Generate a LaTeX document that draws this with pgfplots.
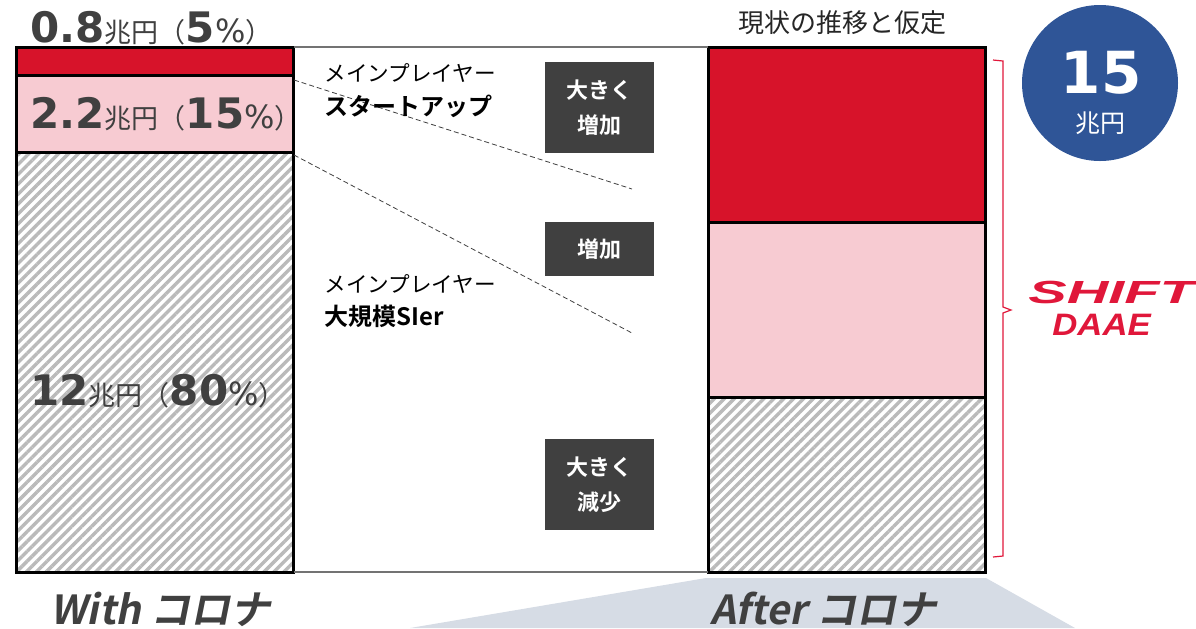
\documentclass[border=0pt]{standalone}
\usepackage{pgfplots}
\pgfplotsset{compat=1.18}
\usetikzlibrary{patterns.meta}
\usepackage{fontspec}
\setmainfont{Noto Sans CJK JP}
\newfontfamily\jp{Noto Sans CJK JP}[BoldFont={Noto Sans CJK JP Bold}]
\newfontfamily\jpsl{Noto Sans CJK JP Bold}[FakeSlant=0.2]
\newfontfamily\dv{DejaVu Sans}
\newfontfamily\lib{Liberation Sans}

\definecolor{redc}{HTML}{D7132A}
\definecolor{pinkc}{HTML}{F7CBD2}
\definecolor{boxc}{HTML}{404040}
\definecolor{circc}{HTML}{2F5597}
\definecolor{trapc}{HTML}{D6DCE5}
\definecolor{logoc}{HTML}{E0173A}
\definecolor{txt}{HTML}{404040}

% label pieces
\newcommand\nm[1]{{\dv\bfseries\fontsize{21}{21}\selectfont #1}}
\newcommand\un[1]{{\jp\fontsize{13.5}{13.5}\selectfont #1}}
\newcommand\pc{{\dv\fontsize{16}{16}\selectfont\%}}

\begin{document}
\begin{tikzpicture}
\begin{axis}[at={(0,0)}, anchor=north west, scale only axis,
    width=598pt, height=314pt, hide axis, clip=false,
    xmin=0, xmax=1196, ymin=-1.6, ymax=16.343,
    ybar stacked, bar width=277]
  % With / After, bottom to top
  \addplot[draw=black, line width=1.5pt,
    pattern={Lines[angle=45,distance=3.5pt,line width=1.7pt]}, pattern color=black!27]
    coordinates {(155,12) (847,5)};
  \addplot[draw=black, line width=1.5pt, fill=pinkc] coordinates {(155,2.2) (847,5)};
  \addplot[draw=black, line width=1.5pt, fill=redc] coordinates {(155,0.8) (847,5)};
  \coordinate (O) at (rel axis cs:0,1);
\end{axis}

\begin{scope}[shift={(O)}, x=0.5pt, y=-0.5pt]
  % connector lines
  \draw[black!55, line width=0.7pt] (294,47) -- (708,47);
  \draw[black!55, line width=0.7pt] (294,572) -- (708,572);
  \draw[black!75, line width=0.4pt, dash pattern=on 2.5pt off 1.5pt] (294,80) -- (632,189);
  \draw[black!75, line width=0.4pt, dash pattern=on 2.5pt off 1.5pt] (294,155) -- (632,333);
  % bottom trapezoid
  \fill[trapc] (410,628) -- (706,578) -- (986,578) -- (1075,628) -- cycle;

  % value labels
  \node[anchor=base west, inner sep=0, text=txt] at (30,42) {\nm{0.8}\un{兆円（}\nm{5}\pc\un{）}};
  \node[anchor=base west, inner sep=0, text=txt] at (30,128) {\nm{2.2}\un{兆円（}\nm{15}\pc\un{）}};
  \node[anchor=base west, inner sep=0, text=txt] at (30,405) {\nm{12}\un{兆円（}\nm{80}\pc\un{）}};

  % players
  \node[anchor=base west, inner sep=0] at (324,81) {\jp\fontsize{10.8}{10.8}\selectfont メインプレイヤー};
  \node[anchor=base west, inner sep=0] at (324,115) {\jp\bfseries\fontsize{12}{12}\selectfont スタートアップ};
  \node[anchor=base west, inner sep=0] at (324,292) {\jp\fontsize{10.8}{10.8}\selectfont メインプレイヤー};
  \node[anchor=base west, inner sep=0] at (324,325) {\jp\bfseries\fontsize{12}{12}\selectfont 大規模SIer};

  % boxes
  \fill[boxc] (545,62) rectangle (654,153);
  \fill[boxc] (545,222) rectangle (654,276);
  \fill[boxc] (545,439) rectangle (654,530);
  \tikzset{boxtxt/.style={text=white, align=center, inner sep=0,
      font=\jp\bfseries\fontsize{11}{17.5}\selectfont}}
  \node[boxtxt] at (599.5,107.5) {大きく\\増加};
  \node[boxtxt] at (599.5,249) {増加};
  \node[boxtxt] at (599.5,484.5) {大きく\\減少};

  % title over After bar
  \node[anchor=base, inner sep=0, text=black!85] at (842,32) {\jp\fontsize{13}{13}\selectfont 現状の推移と仮定};

  % bracket
  \draw[logoc, line width=0.6pt] (993,60) -- (1003,61) -- (1003,307) -- (1011,310) -- (1003,313) -- (1003,556) -- (993,557);

  % circle
  \fill[circc] (1100,83) circle[radius=39pt];
  \node[anchor=base, inner sep=0, text=white] at (1101,93) {\dv\bfseries\fontsize{29}{29}\selectfont 15};
  \node[anchor=base, inner sep=0, text=white] at (1100,132) {\jp\fontsize{12.5}{12.5}\selectfont 兆円};

  % logo
  \node[anchor=base west, inner sep=0, text=logoc] at (1028,303) {\scalebox{1.8}[1]{\lib\bfseries\itshape\fontsize{16}{16}\selectfont SHIFT}};
  \node[anchor=base west, inner sep=0, text=logoc] at (1052,335) {\scalebox{1.12}[1]{\lib\bfseries\itshape\fontsize{15.5}{15.5}\selectfont DAAE}};

  % category labels
  \node[anchor=base west, inner sep=0, text=txt] at (50,624) {\jpsl\fontsize{20}{20}\selectfont With コロナ};
  \node[anchor=base west, inner sep=0, text=txt] at (710,624) {\jpsl\fontsize{20}{20}\selectfont After コロナ};

  \pgfresetboundingbox
  \path[use as bounding box] (0,0) rectangle (1196,628);
\end{scope}
\end{tikzpicture}
\end{document}
